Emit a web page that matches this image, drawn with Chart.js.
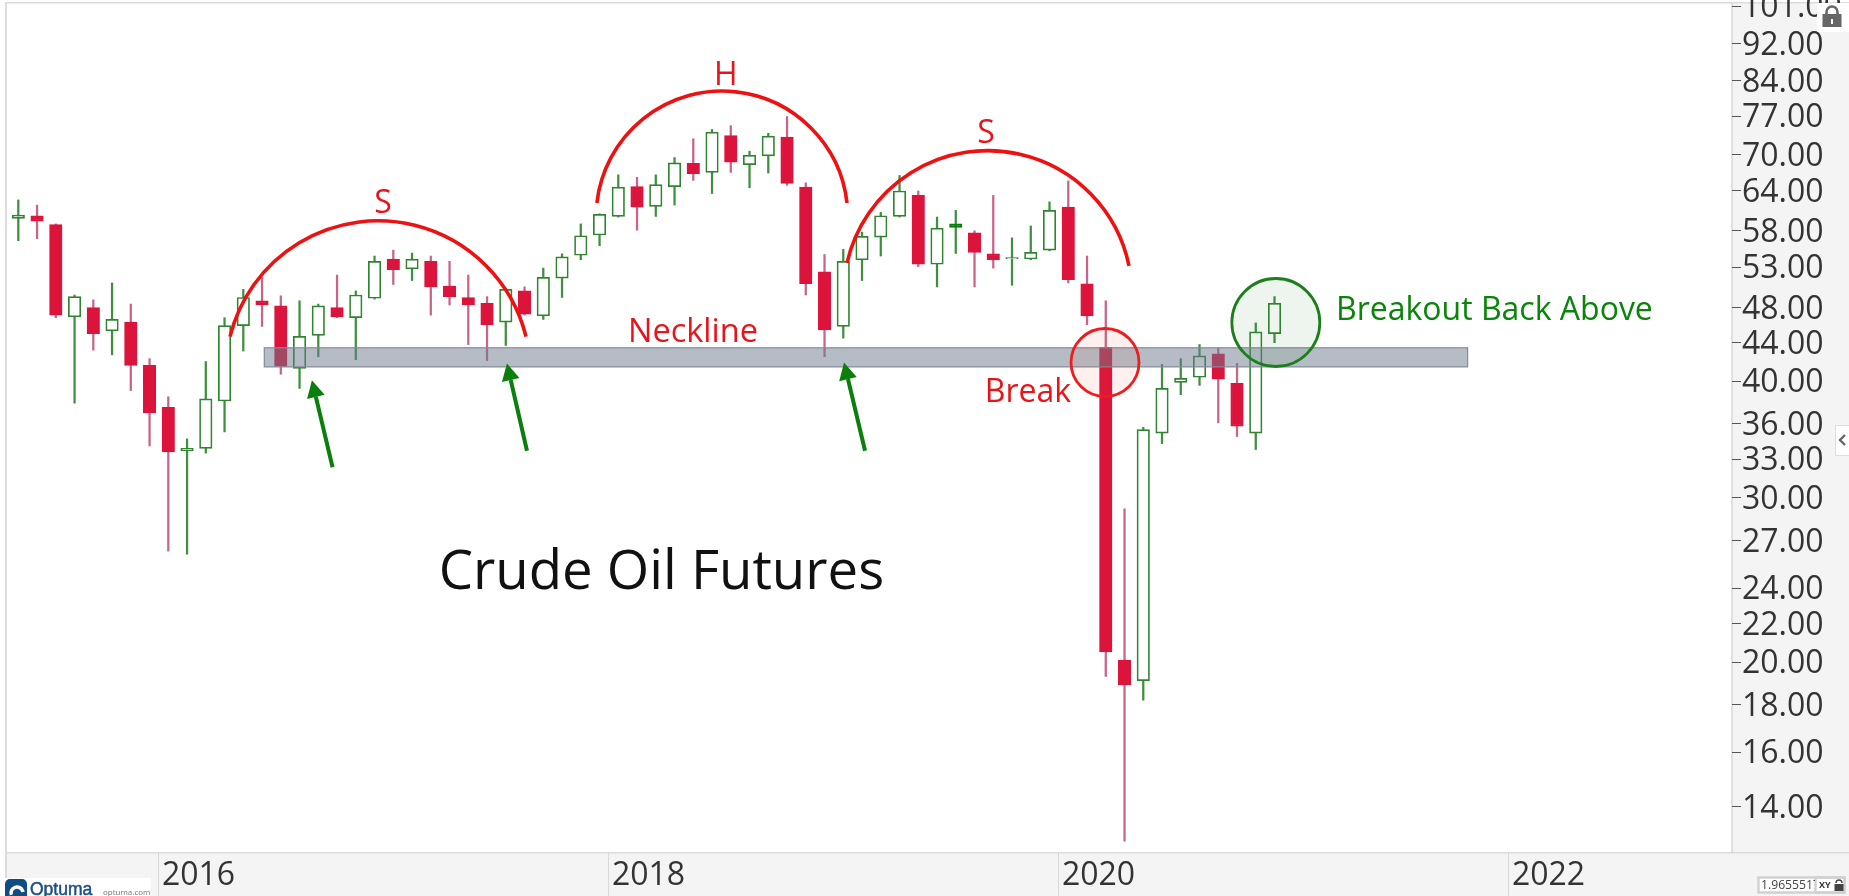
<!DOCTYPE html>
<html>
<head>
<meta charset="utf-8">
<title>Crude Oil Futures</title>
<style>html,body{margin:0;padding:0;background:#fff;overflow:hidden}canvas{display:block}</style>
<script src="https://cdn.jsdelivr.net/npm/chart.js@4/dist/chart.umd.js"></script>
</head>
<body>
<canvas id="c" width="1849" height="896"></canvas>
<script>
// Monthly candles, May 2015 onward (index = months since first candle)
const opens  = [59.8,60.2,58.9,46.9,48,45.3,46.3,41.6,37.5,33.7,33.9,38.1,45.9,48.8,48.2,41.3,44.8,48,46.8,49.1,54.1,52.8,53.8,50.6,49.2,48.5,46.3,50,47,51.6,54.6,57.4,60.1,64.7,61.6,64.7,68.5,67,73.4,68.3,69.8,73.1,64.6,52.4,45.8,54,57.1,60.1,63.3,53.4,58.5,57.7,54.8,54.1,54.1,55.3,61.5,50.9,43.5,20.1,19.1,35.2,39.9,40.4,42.8,39.8,35.2,45];
const highs  = [62.6,61.8,59,49.5,48.9,51,48.4,42.3,38.5,34.7,42,46.8,50.2,51.7,49.4,48.8,48.4,52,50,54.5,55.3,54.9,54.5,53.8,52,49.3,50.3,50.5,52.9,54.8,59,60.5,66.6,66.2,66.6,69.5,72.8,74.5,75.2,70.6,73.8,76.9,65.3,54.7,55.4,57.8,60.7,66.5,64,60,61,58,63.3,57,58.7,62.3,65.6,54.5,48.8,29.2,35.7,41.7,42.3,43.8,43.4,41.8,46.2,49.3];
const lows   = [56.6,56.9,46.8,37.9,43.2,42.7,39.1,34.1,26.3,26.1,33.5,35.3,43.1,45.8,40.7,39.3,42.5,46.8,42.2,49,50.8,51.3,47.1,48.3,43.8,42.1,43.7,47.1,46.6,49.2,54,55.9,60,58.1,60.1,61.8,65.7,63.6,67,64.5,66.9,64.9,49.5,42.5,44.5,51.3,54.5,60,53.1,50.5,54.85,50.5,52.9,50.7,54,55.2,51,46,19.3,12.85,18.2,34.3,38.7,39.6,36.1,34.9,33.8,44];
const closes = [60.3,59.4,47.1,49.3,45,46.6,41.6,37,33.6,33.9,38.3,45.9,49.2,48.3,41.5,44.7,48.2,46.9,49.5,53.8,52.7,54.1,50.5,49.3,48.3,46,50.2,47.2,51.7,54.4,57.3,60.4,64.6,61.5,65,68.6,66.8,74,68.7,69.9,73.3,65.2,50.9,45.4,53.8,57.2,60.2,64,53.4,58.4,59,55,54,54.3,55,61,51.4,47,20.5,18.9,35.5,39.3,40.3,42.6,40.2,35.8,45.2,48.5];
const solidUpCandles = [50];

const priceTicks = [101,92,84,77,70,64,58,53,48,44,40,36,33,30,27,24,22,20,18,16,14];
const yearTickPositions = [7.5,31.5,55.5,79.5];
const yearLabels = ['2016','2018','2020','2022'];

// Annotations in data coordinates [month index, price]
const necklineBand = {from:[13.12,43.45], to:[77.3,41.45]};
const shoulderArcs = [
  [[11.29,44.66],[19.18,59.45],[27.08,44.66]],
  [[30.86,62.13],[37.58,81.9],[44.2,62.13]],
  [[44.2,53.6],[51.66,70.7],[59.24,53.2]]
];
const arrows = [
  [[16.76,32.35],[15.66,40.1]],
  [[27.13,33.7],[26.06,41.8]],
  [[45.16,33.7],[44.04,41.9]]
];
const circleMarks = [
  {at:[57.96,41.9], r:34, stroke:'#ee1c1c', fill:'rgba(230,60,40,0.08)'},
  {at:[67.07,46.25], r:44, stroke:'#1c7f1c', fill:'rgba(40,130,40,0.08)'}
];
const textNotes = [
  {t:'S', at:[19.45,62.4], size:32, color:'#e8141c', align:'center'},
  {t:'H', at:[37.74,85.6], size:32, color:'#e8141c', align:'center'},
  {t:'S', at:[51.61,74.2], size:32, color:'#e8141c', align:'center'},
  {t:'Neckline', at:[35.98,45.4], size:32.5, color:'#e8141c', align:'center'},
  {t:'Break', at:[53.85,39.2], size:32, color:'#e8141c', align:'center'},
  {t:'Breakout Back Above', at:[70.28,48], size:32, color:'#0a850a', align:'left'},
  {t:'Crude Oil Futures', at:[34.3,25.07], size:54.5, color:'#111111', align:'center'}
];

const FONT = '"Open Sans", "Noto Sans", sans-serif';
const DOWN = '#dc143c', DOWN_WICK = '#c8638a', UP = '#2f842f', UP_WICK = '#3f8f3f';

const isUp = i => closes[i] >= opens[i];
const wickData = highs.map((h,i)=>({x:i, y:[lows[i],h]}));
const bodyData = opens.map((o,i)=>({x:i, y:[o,closes[i]]}));

const noAxisPadding = s => {
  s.paddingTop = 0; s.paddingBottom = 0; s.paddingLeft = 0; s.paddingRight = 0;
};

const overlayPlugin = {
  id:'overlay',
  beforeDraw(chart){
    const {ctx, chartArea:a, width:w, height:h} = chart;
    ctx.save();
    ctx.fillStyle='#ffffff'; ctx.fillRect(0,0,w,h);
    ctx.fillStyle='#f4f4f4';
    ctx.fillRect(a.right,a.top,w-a.right,h-a.top);
    ctx.fillRect(a.left,a.bottom,w-a.left,h-a.bottom);
    ctx.fillStyle='#dcdcdc';
    ctx.fillRect(a.left-2,a.top-1,w-a.left+2,1.5);
    ctx.fillRect(a.left-2,a.top-1,2,h);
    ctx.fillRect(a.left,a.bottom-1,w-a.left,1.5);
    ctx.fillStyle='#c8c8c8';
    ctx.fillRect(a.right-0.5,a.top,1,a.bottom-a.top);
    ctx.restore();
  },
  afterDatasetsDraw(chart){
    const {ctx, scales:{x,y}} = chart;
    const P = p => [x.getPixelForValue(p[0]), y.getPixelForValue(p[1])];
    ctx.save();
    // neckline band
    const [bx0,by0]=P(necklineBand.from), [bx1,by1]=P(necklineBand.to);
    ctx.fillStyle='rgba(107,121,141,0.5)';
    ctx.fillRect(bx0,by0,bx1-bx0,by1-by0);
    ctx.strokeStyle='#838c98'; ctx.lineWidth=1.2;
    ctx.strokeRect(bx0,by0,bx1-bx0,by1-by0);
    // arcs through three points
    ctx.strokeStyle='#ee1111'; ctx.lineWidth=3.6;
    shoulderArcs.forEach(arc=>{
      const [a,b,c]=arc.map(P);
      const d=2*(a[0]*(b[1]-c[1])+b[0]*(c[1]-a[1])+c[0]*(a[1]-b[1]));
      const s=p=>p[0]*p[0]+p[1]*p[1];
      const ux=(s(a)*(b[1]-c[1])+s(b)*(c[1]-a[1])+s(c)*(a[1]-b[1]))/d;
      const uy=(s(a)*(c[0]-b[0])+s(b)*(a[0]-c[0])+s(c)*(b[0]-a[0]))/d;
      const r=Math.hypot(a[0]-ux,a[1]-uy);
      ctx.beginPath();
      ctx.arc(ux,uy,r,Math.atan2(a[1]-uy,a[0]-ux),Math.atan2(c[1]-uy,c[0]-ux),false);
      ctx.stroke();
    });
    // circles
    circleMarks.forEach(m=>{
      const [cx,cy]=P(m.at);
      ctx.beginPath(); ctx.arc(cx,cy,m.r,0,Math.PI*2);
      ctx.fillStyle=m.fill; ctx.fill();
      ctx.strokeStyle=m.stroke; ctx.lineWidth=2.8; ctx.stroke();
    });
    // arrows
    ctx.fillStyle='#0b7f0b'; ctx.strokeStyle='#0b7f0b';
    arrows.forEach(ar=>{
      const [t,h]=ar.map(P);
      const ang=Math.atan2(h[1]-t[1],h[0]-t[0]);
      const L=17, W=9;
      const bx=h[0]-L*Math.cos(ang), by=h[1]-L*Math.sin(ang);
      ctx.lineWidth=4;
      ctx.beginPath(); ctx.moveTo(t[0],t[1]); ctx.lineTo(bx,by); ctx.stroke();
      ctx.beginPath(); ctx.moveTo(h[0],h[1]);
      ctx.lineTo(bx-W*Math.sin(ang),by+W*Math.cos(ang));
      ctx.lineTo(bx+W*Math.sin(ang),by-W*Math.cos(ang));
      ctx.closePath(); ctx.fill();
    });
    // text
    ctx.textBaseline='middle';
    textNotes.forEach(n=>{
      const [tx,ty]=P(n.at);
      ctx.font=n.size+'px '+FONT;
      ctx.fillStyle=n.color; ctx.textAlign=n.align;
      ctx.fillText(n.t,tx,ty+3);
    });
    ctx.restore();
  },
  afterDraw(chart){
    const {ctx} = chart;
    ctx.save();
    // padlock button
    ctx.fillStyle='#ffffff'; ctx.fillRect(1817,3,32,29);
    const lock=(x,y,s,col)=>{
      ctx.strokeStyle=col; ctx.fillStyle=col; ctx.lineWidth=2.6*s;
      ctx.beginPath(); ctx.arc(x,y-2*s,5.5*s,Math.PI,0); ctx.lineTo(x+5.5*s,y+1*s); ctx.moveTo(x-5.5*s,y-2*s); ctx.lineTo(x-5.5*s,y+1*s); ctx.stroke();
      ctx.fillRect(x-9.5*s,y,19*s,13*s);
    };
    lock(1832,14,1,'#666666');
    ctx.fillStyle='#ffffff'; ctx.fillRect(1831,19,2,5);
    // collapse tab
    ctx.fillStyle='#ffffff'; ctx.strokeStyle='#dddddd'; ctx.lineWidth=1;
    ctx.fillRect(1835,425,14,30); ctx.strokeRect(1835.5,425.5,14,30);
    ctx.strokeStyle='#666666'; ctx.lineWidth=2.4;
    ctx.beginPath(); ctx.moveTo(1845,435); ctx.lineTo(1840,440); ctx.lineTo(1845,445); ctx.stroke();
    // scale readout
    ctx.fillStyle='#ffffff'; ctx.fillRect(1758,877,87,16);
    ctx.strokeStyle='#d0d0d0'; ctx.strokeRect(1758.5,877.5,86,15);
    ctx.strokeRect(1815.5,877.5,29,15);
    ctx.save(); ctx.beginPath(); ctx.rect(1759,878,56,14); ctx.clip();
    ctx.fillStyle='#444444'; ctx.font='12.2px '+FONT; ctx.textAlign='left'; ctx.textBaseline='middle';
    ctx.fillText('1.9655517',1761,885.5); ctx.restore();
    ctx.fillStyle='#333333'; ctx.font='bold 9px '+FONT; ctx.textAlign='left'; ctx.textBaseline='middle';
    ctx.fillText('XY',1819,885);
    ctx.strokeStyle='#444444'; ctx.lineWidth=1.4;
    ctx.beginPath(); ctx.arc(1839,883,3,Math.PI,0); ctx.stroke();
    ctx.fillStyle='#444444'; ctx.fillRect(1834.5,884,9,7);
    // vendor logo
    ctx.fillStyle='#ffffff'; ctx.fillRect(5,878,146,18);
    ctx.fillStyle='#0f4c81';
    ctx.beginPath(); ctx.roundRect(5,879,22,17,[5,5,0,0]); ctx.fill();
    ctx.strokeStyle='#ffffff'; ctx.lineWidth=3.5;
    ctx.beginPath(); ctx.arc(17,893,6,Math.PI*0.9,Math.PI*1.95); ctx.stroke();
    ctx.fillStyle='#1b4f80'; ctx.strokeStyle='#1b4f80'; ctx.lineWidth=0.5;
    ctx.font='17.5px "Liberation Sans", sans-serif'; ctx.textAlign='left'; ctx.textBaseline='alphabetic';
    ctx.fillText('Optuma',30,895); ctx.strokeText('Optuma',30,895);
    ctx.fillStyle='#777777'; ctx.font='8px '+FONT;
    ctx.fillText('optuma.com',103,895);
    ctx.restore();
  }
};

new Chart(document.getElementById('c'),{
  type:'bar',
  data:{
    datasets:[
      {
        label:'Wick', data:wickData, order:2, barThickness:1.6, grouped:false,
        backgroundColor:wickData.map((_,i)=>isUp(i)?UP_WICK:DOWN_WICK),
        borderWidth:0
      },
      {
        label:'Body', data:bodyData, order:1, barThickness:12.5, grouped:false,
        backgroundColor:bodyData.map((_,i)=>solidUpCandles.includes(i)?'#0a7d0a':(isUp(i)?'#ffffff':DOWN)),
        borderColor:bodyData.map((_,i)=>solidUpCandles.includes(i)?'#0a7d0a':(isUp(i)?UP:DOWN)),
        borderWidth:1.7, borderSkipped:false
      }
    ]
  },
  options:{
    responsive:false, animation:false, maintainAspectRatio:false,
    layout:{autoPadding:false, padding:{left:7,top:3,right:0,bottom:0}},
    plugins:{legend:{display:false},tooltip:{enabled:false},title:{display:false}},
    scales:{
      x:{
        type:'linear', position:'bottom', min:-0.603, max:91.4, bounds:'data', offset:false,
        grid:{offset:false, drawOnChartArea:false, drawTicks:true, tickLength:43, color:'#d8d8d8'},
        border:{display:false},
        ticks:{
          autoSkip:false, maxRotation:0, minRotation:0, align:'start', labelOffset:3, padding:-39,
          color:'#333333', font:{family:FONT,size:32},
          callback:v=>yearLabels[yearTickPositions.indexOf(v)]
        },
        afterBuildTicks:s=>{s.ticks=yearTickPositions.map(v=>({value:v}));},
        afterFit:s=>{s.height=43; noAxisPadding(s);}
      },
      y:{
        type:'logarithmic', position:'right', min:12.48, max:101.8, bounds:'data',
        grid:{drawOnChartArea:false, drawTicks:true, tickLength:9, color:'#555555'},
        border:{display:false},
        ticks:{
          autoSkip:false, padding:1, labelOffset:2, color:'#333333', font:{family:FONT,size:32},
          callback:v=>Number(v).toFixed(2)
        },
        afterBuildTicks:s=>{s.ticks=priceTicks.map(v=>({value:v}));},
        afterFit:s=>{s.width=117; noAxisPadding(s);}
      }
    }
  },
  plugins:[overlayPlugin]
});
</script>
</body>
</html>
